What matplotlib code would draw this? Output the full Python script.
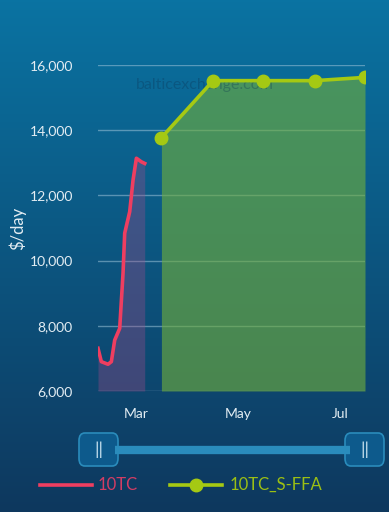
import matplotlib.pyplot as plt
import matplotlib.dates as mdates
import numpy as np
from matplotlib.lines import Line2D
from matplotlib.patches import FancyBboxPatch

plt.rcParams['font.family'] = ['Lato', 'DejaVu Sans']

# 10TC spot index, $/day
tc_dates = ["2024-02-07", "2024-02-09", "2024-02-13", "2024-02-15", "2024-02-17",
            "2024-02-20", "2024-02-22", "2024-02-23", "2024-02-26", "2024-02-28",
            "2024-03-01", "2024-03-04", "2024-03-06"]
tc_values = [7310, 6900, 6820, 6900, 7560, 7920, 9610, 10840, 11500, 12470,
             13140, 13030, 12980]

# 10TC_S-FFA forward curve, $/day
ffa_dates = ["2024-03-16", "2024-04-16", "2024-05-16", "2024-06-16", "2024-07-16"]
ffa_values = [13770, 15520, 15520, 15520, 15620]

y_ticks = [6000, 8000, 10000, 12000, 14000, 16000]
legend_labels = ["10TC", "10TC_S-FFA"]

tc_x = np.array(tc_dates, dtype="datetime64[D]")
ffa_x = np.array(ffa_dates, dtype="datetime64[D]")

red = "#ef3e60"
green = "#a5c913"

fig = plt.figure(figsize=(3.89, 5.12), dpi=100)

# background gradient
bg = fig.add_axes([0, 0, 1, 1], zorder=-10)
grad = np.linspace(0, 1, 256).reshape(-1, 1)
top = np.array([0x0a, 0x73, 0xa2]) / 255
bot = np.array([0x0e, 0x38, 0x5e]) / 255
img = top + (bot - top) * grad[:, :, None]
bg.imshow(img, aspect="auto", extent=[0, 1, 0, 1])
bg.axis("off")

ax = fig.add_axes([98 / 389, 1 - 391 / 512, 267 / 389, 326 / 512])
ax.set_facecolor("none")

for t in y_ticks:
    ax.axhline(t, color="#9cc2d8", lw=1, alpha=0.55, zorder=1)

ax.fill_between(tc_x, tc_values, 6000, color="#a04a8a", alpha=0.35, lw=0, zorder=2)
ax.fill_between(ffa_x, ffa_values, 6000, color="#6fae3c", alpha=0.62, lw=0, zorder=2)
ax.plot(tc_x, tc_values, color=red, lw=2.6, zorder=4)
ax.plot(ffa_x, ffa_values, color=green, lw=2.6, marker="o", ms=9, zorder=4)

ax.text(0.40, 0.94, "balticexchange.com", transform=ax.transAxes, fontsize=11.5,
        color="#0a3050", alpha=0.3, ha="center", va="center", zorder=3,
        fontweight="normal")

ax.set_xlim(tc_x[0], ffa_x[-1])
ax.set_ylim(6000, 16000)
ax.set_yticks(y_ticks)
ax.set_yticklabels([f"{v:,}" for v in y_ticks])
ax.xaxis.set_major_locator(mdates.MonthLocator(bymonth=[3, 5, 7]))
ax.xaxis.set_major_formatter(mdates.DateFormatter("%b"))
ax.tick_params(colors="#e3edf3", labelsize=10, length=0, pad=18)
ax.tick_params(axis="x", pad=12)
for s in ax.spines.values():
    s.set_visible(False)
ax.set_ylabel("$/day", color="#e3edf3", fontsize=12, labelpad=4)
ax.yaxis.set_label_coords(-0.27, 0.5)

# range slider
fig.add_artist(Line2D([115 / 389, 350 / 389], [1 - 450 / 512] * 2,
                      color="#2a8cbc", lw=6, solid_capstyle="butt"))
for x0 in [79, 345]:
    fig.add_artist(FancyBboxPatch((x0 / 389, 1 - 466 / 512), 39 / 389, 33 / 512,
                                  boxstyle="round,pad=0,rounding_size=0.015",
                                  transform=fig.transFigure, fc="#0d5a8c",
                                  ec="#2a8cbc", lw=1.2))
    fig.text((x0 + 19.5) / 389, 1 - 450 / 512, "||", color="#c9e2f0", fontsize=13,
             ha="center", va="center")

# legend
ly = 1 - 485 / 512
fig.add_artist(Line2D([40 / 389, 92 / 389], [ly, ly], color=red, lw=2.6))
fig.text(98 / 389, ly, legend_labels[0], color="#d23d64", fontsize=12, va="center")
fig.add_artist(Line2D([170 / 389, 222 / 389], [ly, ly], color=green, lw=2.6))
fig.add_artist(Line2D([196 / 389], [ly], color=green, marker="o", ms=9))
fig.text(230 / 389, ly, legend_labels[1], color="#9bbf14", fontsize=12, va="center")

plt.savefig("out.png", dpi=100)
